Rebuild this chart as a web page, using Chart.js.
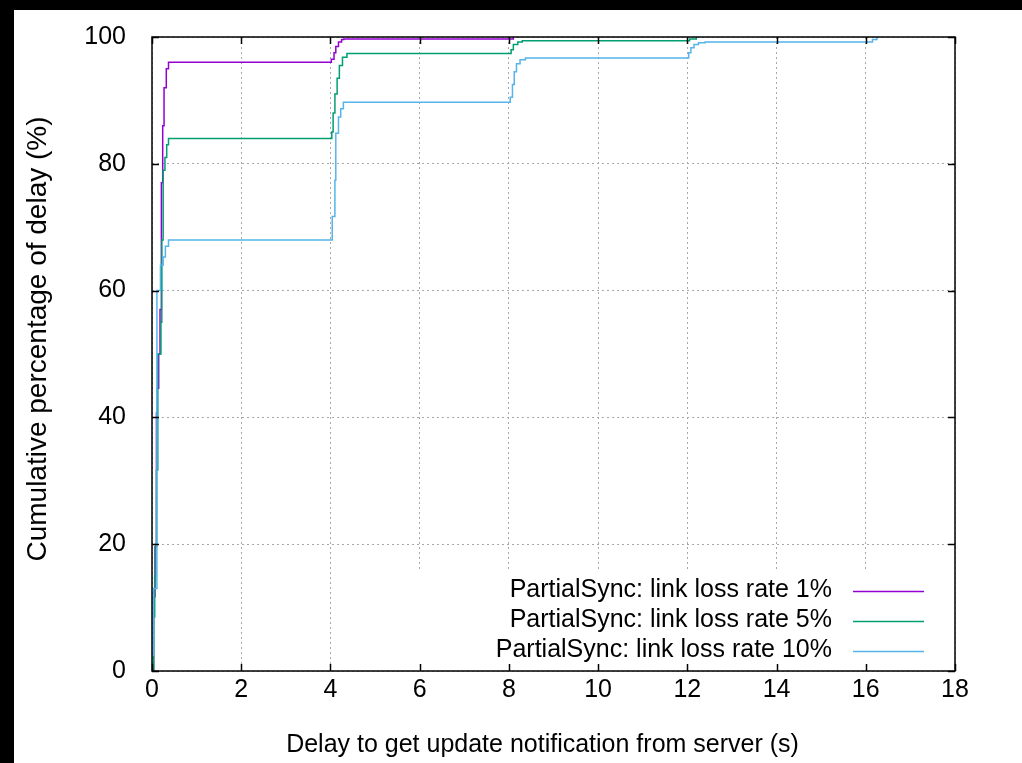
<!DOCTYPE html>
<html>
<head>
<meta charset="utf-8">
<script src="https://cdn.jsdelivr.net/npm/chart.js@4/dist/chart.umd.min.js"></script>
<style>
  html, body { margin: 0; padding: 0; background: #000; width: 1022px; height: 763px; overflow: hidden; }
  #wrap { position: absolute; left: 14px; top: 10px; width: 1008px; height: 753px; background: #fff; }
  canvas { display: block; }
</style>
</head>
<body>
<div id="wrap"><canvas id="c" width="1008" height="753"></canvas></div>
<script>
// ---- data (delay in s, cumulative %) ----
const seriesLabels = [
  'PartialSync: link loss rate 1%',
  'PartialSync: link loss rate 5%',
  'PartialSync: link loss rate 10%'
];
const loss1X = [0.02, 0.034, 0.067, 0.10, 0.12, 0.15, 0.18, 0.21, 0.24, 0.27, 0.32, 0.37, 4.02, 4.08, 4.12, 4.18, 4.25, 4.30, 8.10];
const loss1Y = [0, 11.7, 19.6, 40.7, 44.6, 50, 57, 77, 86, 92, 95, 96, 96.5, 97.5, 98.5, 99.2, 99.6, 99.7, 100];

const loss5X = [0.025, 0.04, 0.06, 0.08, 0.10, 0.13, 0.20, 0.22, 0.25, 0.29, 0.33, 0.37, 4.03, 4.06, 4.10, 4.15, 4.20, 4.27, 4.37, 8.05, 8.10, 8.20, 8.30, 12.05, 12.20];
const loss5Y = [0, 8.5, 15, 20, 31.7, 50, 55, 68, 79, 81, 83, 84, 85, 88, 91, 93.5, 95.5, 96.8, 97.4, 98, 98.8, 99.2, 99.4, 99.7, 100];

const loss10X = [0.02, 0.034, 0.11, 0.19, 0.25, 0.30, 0.37, 4.04, 4.10, 4.12, 4.18, 4.23, 4.29, 8.03, 8.08, 8.12, 8.17, 8.25, 8.37, 12.03, 12.08, 12.15, 12.25, 12.40, 16.15, 16.25];
const loss10Y = [2.5, 13, 60, 64, 65.3, 67, 68, 71.7, 77.4, 84.8, 87.4, 88.7, 89.7, 90.5, 92.5, 94.5, 95.8, 96.4, 96.7, 97.5, 98.3, 98.8, 99.1, 99.2, 99.6, 100];

const xTickStep = 2, xMin = 0, xMax = 18;
const yTickStep = 20, yMin = 0, yMax = 100;
const xTitle = 'Delay to get update notification from server (s)';
const yTitle = 'Cumulative percentage of delay (%)';
const colors = ['#9400d3', '#009e73', '#56b4e9'];

function pts(xs, ys) { return xs.map((x, i) => ({ x: x, y: ys[i] })); }

const FONT = "'Liberation Sans', Arial, sans-serif";
Chart.defaults.font.family = FONT;
Chart.defaults.color = '#000';

const framePlugin = {
  id: 'frame',
  beforeDatasetsDraw(chart) {
    const ca = chart.chartArea, ctx = chart.ctx;
    ctx.save();
    ctx.fillStyle = '#fff';
    ctx.fillRect(ca.left + 253, ca.bottom - 101, ca.right - ca.left - 253 - 16, 100);
    ctx.restore();
  },
  afterDraw(chart) {
    const ca = chart.chartArea, ctx = chart.ctx;
    const xs = chart.scales.x, ys = chart.scales.y;
    ctx.save();
    ctx.strokeStyle = '#000';
    ctx.lineWidth = 1.5;
    ctx.strokeRect(ca.left, ca.top, ca.right - ca.left, ca.bottom - ca.top);
    const tl = 7;
    ctx.beginPath();
    xs.ticks.forEach(t => {
      const p = Math.round(xs.getPixelForValue(t.value)) + 0.5;
      ctx.moveTo(p, ca.bottom); ctx.lineTo(p, ca.bottom - tl);
      ctx.moveTo(p, ca.top); ctx.lineTo(p, ca.top + tl);
    });
    ys.ticks.forEach(t => {
      const p = Math.round(ys.getPixelForValue(t.value)) + 0.5;
      ctx.moveTo(ca.left, p); ctx.lineTo(ca.left + tl, p);
      ctx.moveTo(ca.right, p); ctx.lineTo(ca.right - tl, p);
    });
    ctx.stroke();

    // axis titles
    ctx.fillStyle = '#000';
    ctx.textAlign = 'center';
    ctx.textBaseline = 'middle';
    ctx.font = '25px ' + FONT;
    ctx.fillText(xTitle, (ca.left + ca.right) / 2 - 11, ca.bottom + 74);
    ctx.save();
    ctx.translate(24, (ca.top + ca.bottom) / 2 - 15);
    ctx.rotate(-Math.PI / 2);
    ctx.font = '28px ' + FONT;
    ctx.fillText(yTitle, 0, 0);
    ctx.restore();

    // key (inside the plot, bottom right)
    ctx.font = '25px ' + FONT;
    ctx.textAlign = 'right';
    ctx.textBaseline = 'middle';
    const rows = [81, 51, 21];
    chart.data.datasets.forEach((ds, i) => {
      const y = ca.bottom - rows[i];
      ctx.fillStyle = '#000';
      ctx.fillText(ds.label, ca.right - 123, y);
      ctx.strokeStyle = ds.borderColor;
      ctx.lineWidth = 1.5;
      ctx.beginPath();
      ctx.moveTo(ca.right - 102, y + 1.5);
      ctx.lineTo(ca.right - 31, y + 1.5);
      ctx.stroke();
    });
    ctx.restore();
  }
};

new Chart(document.getElementById('c'), {
  type: 'line',
  data: {
    datasets: [
      { label: seriesLabels[0], data: pts(loss1X, loss1Y), borderColor: colors[0], order: 3 },
      { label: seriesLabels[1], data: pts(loss5X, loss5Y), borderColor: colors[1], order: 2 },
      { label: seriesLabels[2], data: pts(loss10X, loss10Y), borderColor: colors[2], order: 1 }
    ].map(d => Object.assign(d, { borderWidth: 1.5, pointRadius: 0, fill: false, stepped: true, tension: 0 }))
  },
  options: {
    responsive: false,
    animation: false,
    devicePixelRatio: 1,
    layout: { padding: { left: 0, top: 27, right: 67, bottom: 0 } },
    plugins: { legend: { display: false }, tooltip: { enabled: false } },
    scales: {
      x: {
        type: 'linear', min: xMin, max: xMax,
        ticks: { stepSize: xTickStep, padding: 4, color: '#000', font: { size: 25 } },
        grid: { color: '#a8a8a8', lineWidth: 1, drawTicks: false },
        border: { display: false, dash: [2, 3] },
        title: { display: false },
        afterFit(s) { s.height = 92; s.paddingLeft = 0; s.paddingRight = 0; }
      },
      y: {
        type: 'linear', min: yMin, max: yMax,
        ticks: { stepSize: yTickStep, padding: 26, color: '#000', font: { size: 25 } },
        grid: { color: '#a8a8a8', lineWidth: 1, drawTicks: false },
        border: { display: false, dash: [2, 3] },
        title: { display: false },
        afterFit(s) { s.width = 138; s.paddingTop = 0; s.paddingBottom = 0; }
      }
    }
  },
  plugins: [framePlugin]
});
</script>
</body>
</html>
